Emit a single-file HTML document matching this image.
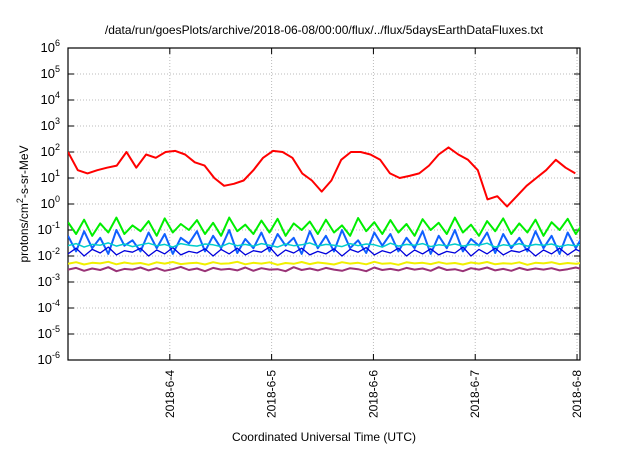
<!DOCTYPE html>
<html><head><meta charset="utf-8"><style>
body{margin:0;background:#fff}
svg{font-family:"Liberation Sans",sans-serif}
</style></head><body>
<svg id="chart" width="640" height="448" viewBox="0 0 640 448" xmlns="http://www.w3.org/2000/svg">
<text x="324" y="34" font-size="12" text-anchor="middle">/data/run/goesPlots/archive/2018-06-08/00:00/flux/../flux/5daysEarthDataFluxes.txt</text>
<g id="grid"></g>
<g id="axes"></g>
<g id="series" clip-path="url(#clip)"></g>
<defs><clipPath id="clip"><rect x="68" y="47" width="512" height="314"/></clipPath></defs>
<text transform="translate(28,204) rotate(-90)" font-size="12" text-anchor="middle">protons/cm<tspan dy="-5" font-size="9">2</tspan><tspan dy="5">-s-sr-MeV</tspan></text>
<text x="324" y="441" font-size="12" text-anchor="middle">Coordinated Universal Time (UTC)</text>
</svg>
<script>
const dayLabels=["2018-6-4","2018-6-5","2018-6-6","2018-6-7","2018-6-8"];
const dayTicks=[24,48,72,96,120];
const decades=[-6,-5,-4,-3,-2,-1,0,1,2,3,4,5,6];
const redStep=2.3;
const red=[100,20,15,20,25,30,100,25,80,60,100,110,80,40,30,10,5,6,8,20,60,110,100,60,15,8,3,8,50,100,100,80,50,15,10,12,15,30,80,150,80,50,20,1.5,2,0.8,2,5,10,20,50,25,15];
const noisyStep=1.9;
const green=[0.2,0.07,0.25,0.06,0.18,0.08,0.3,0.07,0.15,0.09,0.22,0.06,0.28,0.08,0.17,0.1,0.24,0.07,0.19,0.06,0.3,0.09,0.16,0.07,0.23,0.08,0.27,0.06,0.18,0.1,0.21,0.07,0.25,0.08,0.15,0.06,0.29,0.09,0.2,0.07,0.24,0.08,0.17,0.06,0.26,0.1,0.19,0.07,0.3,0.08,0.16,0.06,0.22,0.09,0.28,0.07,0.18,0.08,0.25,0.06,0.2,0.1,0.27,0.07,0.2,0.08];
const blue=[0.06,0.015,0.09,0.02,0.05,0.012,0.1,0.025,0.04,0.015,0.08,0.02,0.07,0.012,0.05,0.03,0.09,0.015,0.06,0.02,0.1,0.013,0.045,0.02,0.08,0.015,0.07,0.025,0.05,0.012,0.09,0.02,0.06,0.015,0.1,0.02,0.04,0.013,0.08,0.025,0.07,0.015,0.05,0.02,0.09,0.012,0.06,0.02,0.1,0.015,0.045,0.025,0.08,0.013,0.07,0.02,0.05,0.015,0.09,0.02,0.06,0.012,0.08,0.02,0.07,0.015];
const darkBlue=[0.012,0.02,0.01,0.018,0.013,0.022,0.011,0.016,0.014,0.02,0.01,0.017,0.012,0.021,0.011,0.015,0.013,0.019,0.01,0.018,0.012,0.02,0.011,0.016,0.014,0.022,0.01,0.017,0.013,0.02,0.011,0.015,0.012,0.019,0.01,0.018,0.014,0.021,0.011,0.016,0.013,0.02,0.01,0.017,0.012,0.019,0.011,0.015,0.013,0.022,0.01,0.018,0.012,0.02,0.011,0.016,0.014,0.019,0.01,0.017,0.012,0.02,0.011,0.018,0.013,0.016];
const cyan=[0.025,0.03,0.022,0.028,0.026,0.032,0.024,0.029,0.023,0.027,0.031,0.025,0.028,0.022,0.03,0.026,0.024,0.029,0.027,0.023,0.031,0.025,0.028,0.024,0.03,0.026,0.022,0.029,0.025,0.027,0.032,0.024,0.028,0.026,0.023,0.03,0.025,0.029,0.027,0.022,0.031,0.024,0.028,0.026,0.03,0.023,0.027,0.025,0.029,0.024,0.028,0.026,0.031,0.022,0.027,0.025,0.03,0.024,0.028,0.026,0.029,0.023,0.027,0.025,0.03,0.026];
const yellow=[0.005,0.0058,0.0047,0.0055,0.0052,0.006,0.0048,0.0056,0.005,0.0054,0.0046,0.0057,0.0051,0.0059,0.0049,0.0053,0.0055,0.0047,0.0058,0.005,0.0052,0.006,0.0048,0.0055,0.0051,0.0057,0.0046,0.0054,0.005,0.0059,0.0049,0.0056,0.0052,0.0047,0.0058,0.0051,0.0055,0.0048,0.006,0.005,0.0053,0.0046,0.0057,0.0052,0.0055,0.0049,0.0058,0.005,0.0054,0.0047,0.0056,0.0051,0.0059,0.0048,0.0053,0.005,0.0057,0.0046,0.0055,0.0052,0.0058,0.0049,0.0054,0.005,0.0056,0.0051];
const purple=[0.003,0.0035,0.0027,0.0033,0.0029,0.0037,0.0026,0.0032,0.003,0.0036,0.0028,0.0034,0.0027,0.0031,0.0038,0.0029,0.0033,0.0026,0.0035,0.003,0.0032,0.0028,0.0036,0.0027,0.0034,0.003,0.0031,0.0026,0.0037,0.0029,0.0033,0.0028,0.0035,0.003,0.0027,0.0034,0.0031,0.0026,0.0036,0.0029,0.0032,0.0028,0.0035,0.003,0.0033,0.0027,0.0037,0.0029,0.0031,0.0026,0.0034,0.003,0.0036,0.0028,0.0032,0.0027,0.0035,0.0029,0.0033,0.003,0.0034,0.0028,0.0031,0.0036,0.003,0.0033];

const L=68,R=580,T=48,B=360,HOURS=120.7;
const ns="http://www.w3.org/2000/svg";
function xS(h){return L+h/HOURS*(R-L);}
function yS(v){return B-(Math.log10(v)+6)/12*(B-T);}
function mk(tag,attrs,parent){const e=document.createElementNS(ns,tag);for(const k in attrs)e.setAttribute(k,attrs[k]);parent.appendChild(e);return e;}
const grid=document.getElementById('grid'),axes=document.getElementById('axes'),series=document.getElementById('series');
decades.forEach(d=>{
  const y=yS(Math.pow(10,d));
  if(d>-6&&d<6){const g=mk('line',{x1:L,x2:R,y1:y,y2:y,stroke:'#bbb','stroke-dasharray':'1,2','stroke-width':1},grid);
  
  }
  mk('line',{x1:L,x2:L+6,y1:y,y2:y,stroke:'#000'},axes);
  mk('line',{x1:R-6,x2:R,y1:y,y2:y,stroke:'#000'},axes);
  const t=mk('text',{x:L-8,y:y+4,'font-size':13,'text-anchor':'end'},axes);
  
  
  t.textContent='10';
  const s=mk('tspan',{dy:-6,'font-size':9},t);s.textContent=String(d);
});
dayTicks.forEach((h,i)=>{
  const x=xS(h);
  const g=mk('line',{x1:x,x2:x,y1:T,y2:B,stroke:'#bbb','stroke-dasharray':'1,2'},grid);
  
  
  mk('line',{x1:x,x2:x,y1:B,y2:B-6,stroke:'#000'},axes);
  mk('line',{x1:x,x2:x,y1:T,y2:T+6,stroke:'#000'},axes);
  const t=mk('text',{transform:`translate(${x+4},${B+10}) rotate(-90)`,'font-size':12,'text-anchor':'end'},axes);
  
  
  t.textContent=dayLabels[i];
});
const fr=mk('rect',{x:L,y:T,width:R-L,height:B-T,fill:'none',stroke:'#000','stroke-width':1.2},axes);


function line(arr,step,color,w,name){
  const pts=arr.map((v,i)=>xS(i*step).toFixed(1)+','+yS(v).toFixed(1)).join(' ');
  const p=mk('polyline',{points:pts,fill:'none',stroke:color,'stroke-width':w,'stroke-linejoin':'round'},series);
  
  
}
line(green,noisyStep,'#00ee00',2,'series-green');
line(blue,noisyStep,'#1060ff',2,'series-blue');
line(darkBlue,noisyStep,'#0000dd',1.3,'series-dark-blue');
line(cyan,noisyStep,'#00cccc',1.5,'series-cyan');
line(yellow,noisyStep,'#f0f000',2,'series-yellow');
line(purple,noisyStep,'#993377',2,'series-purple');
line(red,redStep,'#ff0000',2,'series-red');
</script>
</body></html>
